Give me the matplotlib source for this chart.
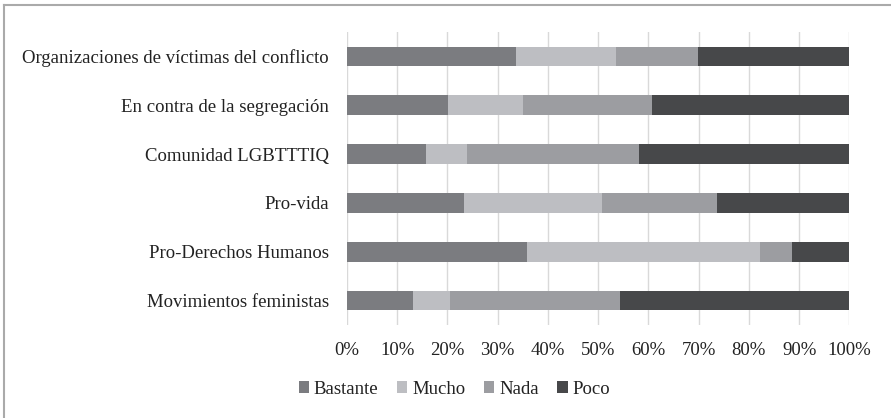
import numpy as np
import matplotlib.pyplot as plt
from matplotlib.lines import Line2D

categories = ['Movimientos feministas', 'Pro-Derechos Humanos', 'Pro-vida',
              'Comunidad LGBTTTIQ', 'En contra de la segregación',
              'Organizaciones de víctimas del conflicto']
bastante = [13.1, 35.9, 23.3, 15.7, 20.1, 33.7]
mucho = [7.4, 46.3, 27.4, 8.1, 14.9, 19.8]
nada = [33.9, 6.3, 23.0, 34.3, 25.7, 16.3]
poco = [45.6, 11.5, 26.3, 41.9, 39.3, 30.2]

series = [('Bastante', bastante, '#7b7c80'),
          ('Mucho', mucho, '#bdbec2'),
          ('Nada', nada, '#9c9da1'),
          ('Poco', poco, '#47484a')]

plt.rcParams['font.family'] = ['Liberation Serif', 'DejaVu Serif']

fig = plt.figure(figsize=(8.91, 4.18), dpi=100)
ax = fig.add_axes([0.3894, 0.2225, 0.5638, 0.701])

y = np.arange(len(categories))
left = np.zeros(len(categories))
for name, vals, color in series:
    vals = np.array(vals)
    ax.barh(y, vals, left=left, height=0.4, color=color, label=name, zorder=3)
    left += vals

ax.set_xlim(0, 100)
ax.set_ylim(-0.5, len(categories) - 0.5)
ax.set_xticks(np.arange(0, 101, 10))
ax.set_xticklabels([f'{v}%' for v in range(0, 101, 10)])
ax.set_yticks(y)
ax.set_yticklabels(categories)
ax.tick_params(axis='both', length=0, labelsize=13.5, colors='#222222')
ax.tick_params(axis='x', pad=12)
ax.tick_params(axis='y', pad=13)
ax.grid(axis='x', color='#d9d9d9', linewidth=1, zorder=0)
for s in ax.spines.values():
    s.set_visible(False)

leg = fig.legend(loc='center', bbox_to_anchor=(0.51, 0.069), ncol=4, frameon=False,
                 fontsize=13.5, handlelength=0.55, handleheight=0.55, handletextpad=0.25,
                 columnspacing=1.0)
for t in leg.get_texts():
    t.set_color('#222222')

fig.add_artist(Line2D([0.005, 1.0], [0.988, 0.988], color='#aaaaaa', linewidth=1.5))
fig.add_artist(Line2D([0.005, 0.005], [0.0, 0.988], color='#aaaaaa', linewidth=1.5))

fig.savefig('out.png', dpi=100)
